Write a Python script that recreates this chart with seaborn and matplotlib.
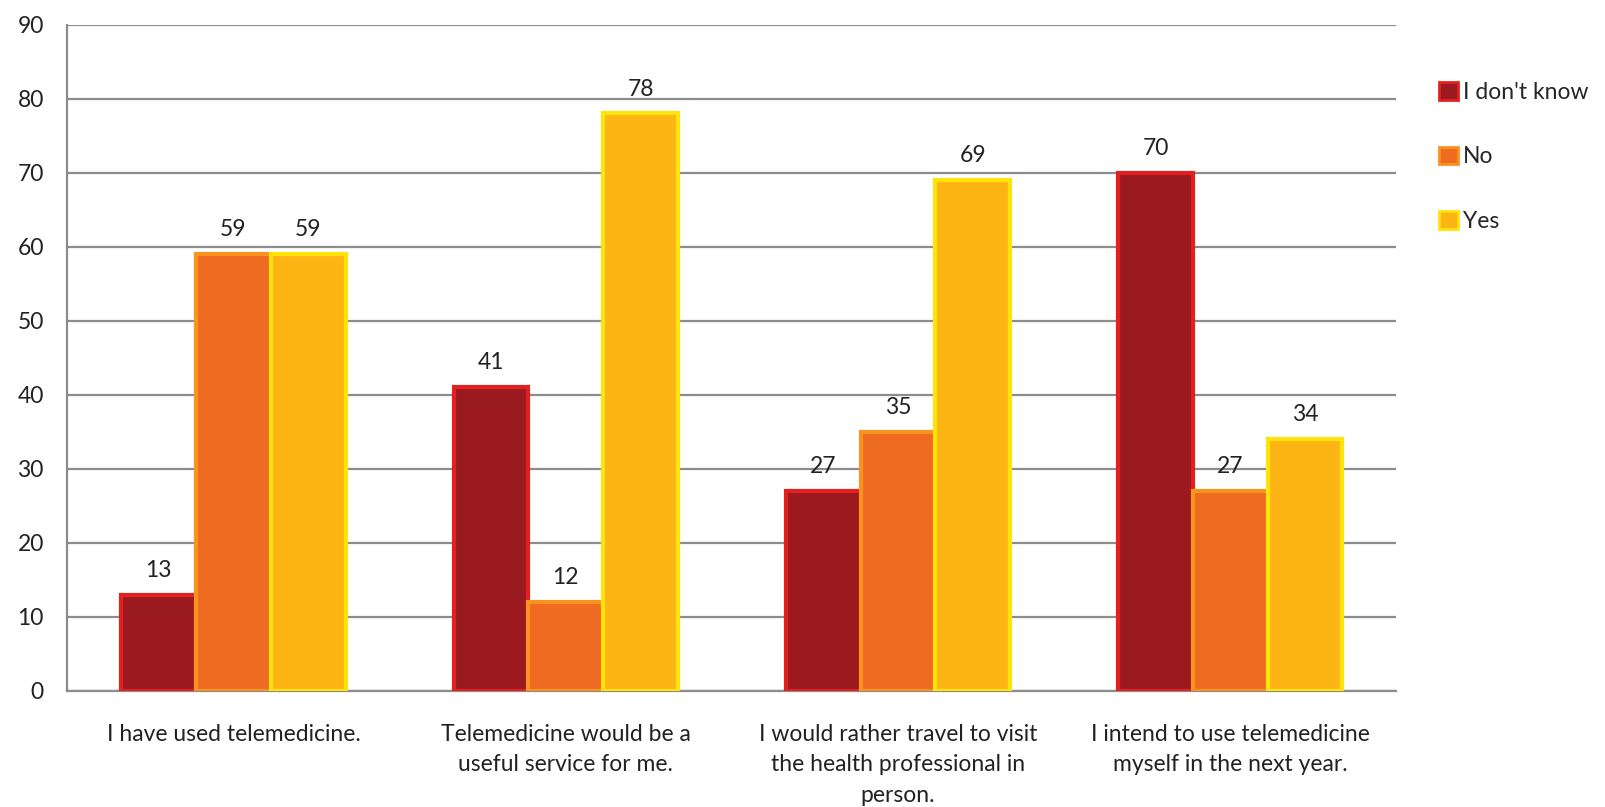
import matplotlib
matplotlib.use("Agg")
import matplotlib.pyplot as plt
import seaborn as sns
import pandas as pd
from matplotlib.patches import Patch

categories = ["I have used telemedicine.",
              "Telemedicine would be a\nuseful service for me.",
              "I would rather travel to visit\nthe health professional in\nperson.",
              "I intend to use telemedicine\nmyself in the next year."]
series = ["I don't know", "No", "Yes"]
dont_know = [13, 41, 27, 70]
no = [59, 12, 35, 27]
yes = [59, 78, 69, 34]
yticks = [0, 10, 20, 30, 40, 50, 60, 70, 80, 90]

face = {"I don't know": "#9A1A1F", "No": "#F06B22", "Yes": "#FDB516"}
edge = {"I don't know": "#E3201F", "No": "#F8931E", "Yes": "#FFE30A"}

rows = []
for s, vals in zip(series, [dont_know, no, yes]):
    for c, v in zip(categories, vals):
        rows.append({"cat": c, "series": s, "value": v})
df = pd.DataFrame(rows)

sns.set_style("white")
plt.rcParams['font.family'] = ['Lato', 'DejaVu Sans']
FS = 16.5

fig = plt.figure(figsize=(16.05, 8.07), dpi=100)
ax = fig.add_axes([0.042, 0.144, 0.828, 0.8255])

sns.barplot(data=df, x="cat", y="value", hue="series", order=categories,
            hue_order=series, palette=face, width=0.675, ax=ax, legend=False,
            saturation=1)

for container, s in zip(ax.containers, series):
    for bar in container:
        bar.set_edgecolor(edge[s])
        bar.set_linewidth(3)
        bar.set_zorder(3)
    ax.bar_label(container, fmt="%d", padding=10, fontsize=FS, color="#222222")

ax.set_ylim(0, 90)
ax.set_yticks(yticks)
ax.set_xlim(-0.5, 3.5)
ax.set_xlabel("")
ax.set_ylabel("")
ax.yaxis.grid(True, color="#8c8c8c", linewidth=1.6, zorder=0)
ax.set_axisbelow(True)
for sp in ["top", "right"]:
    ax.spines[sp].set_visible(False)
for sp in ["left", "bottom"]:
    ax.spines[sp].set_color("#8c8c8c")
    ax.spines[sp].set_linewidth(1.6)

ax.set_xticks([0, 1, 2, 3])
ax.set_xticklabels(categories, fontsize=FS, color="#222222", linespacing=1.55)
ax.tick_params(axis="x", length=0, pad=24)
ax.set_xticks([-0.5, 0.5, 1.5, 2.5, 3.5], minor=True)
ax.tick_params(axis="x", which="minor", length=9, width=1.6, color="#8c8c8c")
ax.tick_params(axis="y", length=7, width=1.6, color="#8c8c8c", labelsize=FS,
               labelcolor="#222222", pad=10)

handles = [Patch(facecolor=face[s], edgecolor=edge[s], linewidth=2) for s in series]
fig.legend(handles, series, loc="upper left", bbox_to_anchor=(0.891, 0.91),
           frameon=False, fontsize=FS, handlelength=0.8, handleheight=0.8,
           handletextpad=0.25, labelspacing=1.9, borderaxespad=0)

fig.savefig("out.png", dpi=100, facecolor="white")
